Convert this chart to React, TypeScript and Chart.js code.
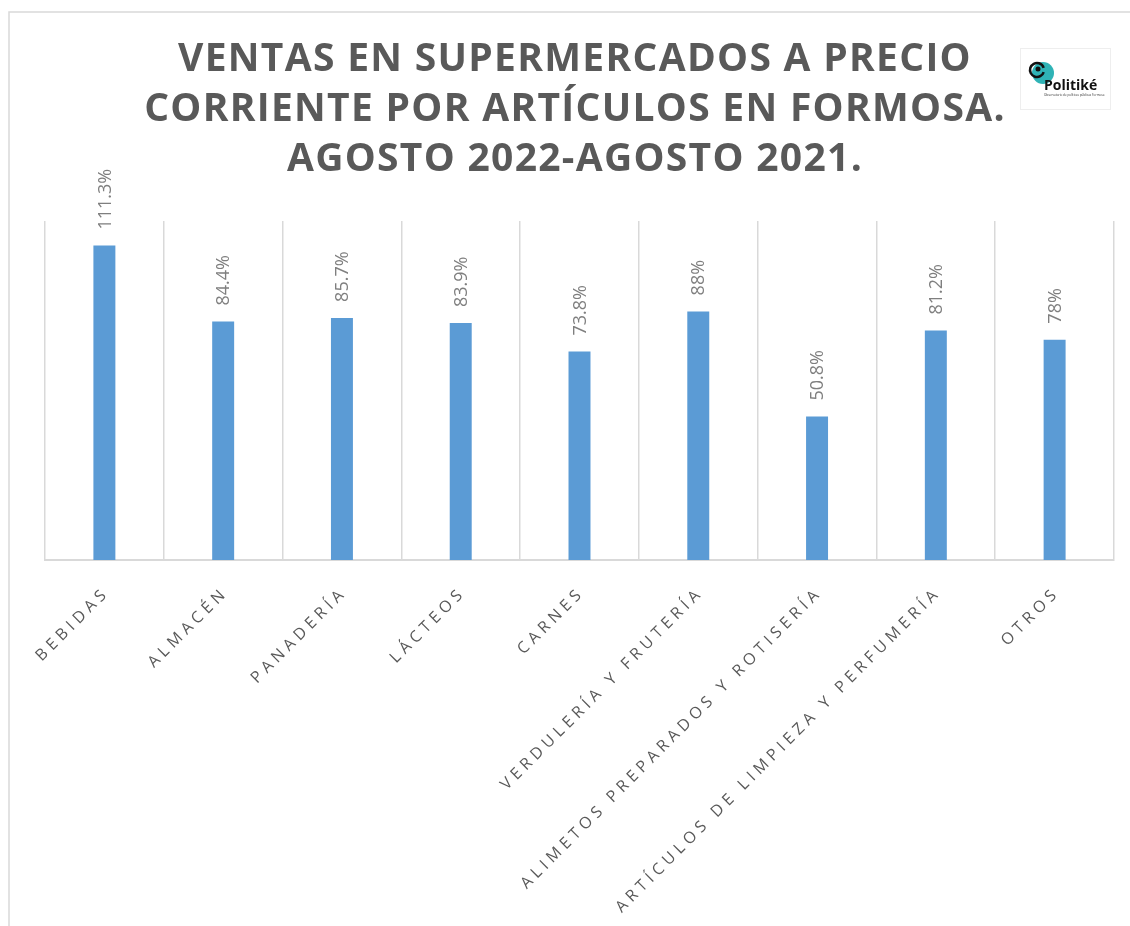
import React, { useEffect, useRef } from "react";
import { Chart, registerables } from "chart.js";

Chart.register(...registerables);

const titleLines = [
  "VENTAS EN SUPERMERCADOS A PRECIO",
  "CORRIENTE POR ARTÍCULOS EN FORMOSA.",
  "AGOSTO 2022-AGOSTO 2021.",
];

const categories = [
  "BEBIDAS",
  "ALMACÉN",
  "PANADERÍA",
  "LÁCTEOS",
  "CARNES",
  "VERDULERÍA Y FRUTERÍA",
  "ALIMETOS PREPARADOS Y ROTISERÍA",
  "ARTÍCULOS DE LIMPIEZA Y PERFUMERÍA",
  "OTROS",
];

const variation = [111.3, 84.4, 85.7, 83.9, 73.8, 88, 50.8, 81.2, 78];

const W = 1130;
const H = 926;

const decorPlugin = {
  id: "decor",
  beforeDraw(chart: any) {
    const ctx = chart.ctx;
    ctx.save();
    ctx.fillStyle = "#ffffff";
    ctx.fillRect(0, 0, W, H);
    ctx.strokeStyle = "#d9d9d9";
    ctx.lineWidth = 1.5;
    ctx.beginPath();
    ctx.moveTo(9, H);
    ctx.lineTo(9, 12);
    ctx.lineTo(W, 12);
    ctx.stroke();
    ctx.restore();
  },
  afterDraw(chart: any) {
    const ctx = chart.ctx;
    // title
    ctx.save();
    ctx.fillStyle = "#595959";
    ctx.font = "bold 39px 'Open Sans'";
    (ctx as any).letterSpacing = "1.3px";
    ctx.textAlign = "center";
    ctx.textBaseline = "middle";
    titleLines.forEach((t, i) => {
      ctx.fillText(t, 575, 60 + i * 50);
    });
    ctx.restore();

    // logo
    ctx.save();
    ctx.fillStyle = "#ffffff";
    ctx.strokeStyle = "#eeeeee";
    ctx.lineWidth = 1;
    ctx.fillRect(1020, 48, 91, 62);
    ctx.strokeRect(1020.5, 48.5, 90, 61);
    ctx.fillStyle = "#2fb3b6";
    ctx.beginPath();
    ctx.arc(1043, 73, 11, 0, Math.PI * 2);
    ctx.fill();
    ctx.strokeStyle = "#111111";
    ctx.lineWidth = 2.5;
    ctx.beginPath();
    ctx.arc(1037, 70, 7, 0.3, Math.PI * 1.9);
    ctx.stroke();
    ctx.fillStyle = "#111111";
    ctx.beginPath();
    ctx.arc(1038, 69, 2.5, 0, Math.PI * 2);
    ctx.fill();
    ctx.font = "bold 14px 'Open Sans'";
    ctx.textAlign = "left";
    ctx.textBaseline = "alphabetic";
    ctx.fillText("Politiké", 1044, 90);
    ctx.font = "3px 'Open Sans'";
    ctx.fillStyle = "#333333";
    ctx.fillText("Observatorio de políticas públicas Formosa", 1044, 96);
    ctx.restore();

    // x labels
    const xScale = chart.scales.x;
    const spacing = 4.6;
    ctx.save();
    ctx.fillStyle = "#595959";
    ctx.font = "16px 'Open Sans'";
    (ctx as any).letterSpacing = spacing + "px";
    ctx.textAlign = "right";
    ctx.textBaseline = "middle";
    categories.forEach((c, i) => {
      const x = xScale.getPixelForValue(i);
      ctx.save();
      ctx.translate(x + spacing - 2, 590);
      ctx.rotate(-Math.PI / 4);
      ctx.fillText(c, 0, 0);
      ctx.restore();
    });
    ctx.restore();
  },
  afterDatasetsDraw(chart: any) {
    const ctx = chart.ctx;
    const meta = chart.getDatasetMeta(0);
    ctx.save();
    ctx.fillStyle = "#7f7f7f";
    ctx.font = "18px 'Open Sans'";
    ctx.textAlign = "left";
    ctx.textBaseline = "middle";
    meta.data.forEach((bar: any, i: number) => {
      ctx.save();
      ctx.translate(bar.x + 1, bar.y - 16);
      ctx.rotate(-Math.PI / 2);
      ctx.fillText(variation[i] + "%", 0, 0);
      ctx.restore();
    });
    ctx.restore();
  },
};

export default function App() {
  const ref = useRef<HTMLCanvasElement | null>(null);
  useEffect(() => {
    if (!ref.current) return;
    const chart = new Chart(ref.current, {
      type: "bar",
      data: {
        labels: categories,
        datasets: [
          {
            data: variation,
            backgroundColor: "#5b9bd5",
            borderWidth: 0,
            categoryPercentage: 1,
            barPercentage: 0.185,
          },
        ],
      },
      options: {
        responsive: false,
        animation: false,
        devicePixelRatio: 1,
        layout: { padding: { left: 45, right: 16, top: 221, bottom: 366 } },
        plugins: {
          legend: { display: false },
          title: { display: false },
          tooltip: { enabled: false },
        },
        scales: {
          x: {
            grid: { color: "#d9d9d9", lineWidth: 1.5, drawTicks: false, offset: true },
            border: { color: "#d9d9d9", width: 2 },
            ticks: { display: false },
          },
          y: { display: false, min: 0, max: 120 },
        },
      },
      plugins: [decorPlugin],
    });
    return () => chart.destroy();
  }, []);
  return (
    <div style={{ position: "fixed", left: 0, top: 0, width: W, height: H, background: "#fff" }}>
      <canvas ref={ref} width={W} height={H} style={{ width: W, height: H, display: "block" }} />
    </div>
  );
}
